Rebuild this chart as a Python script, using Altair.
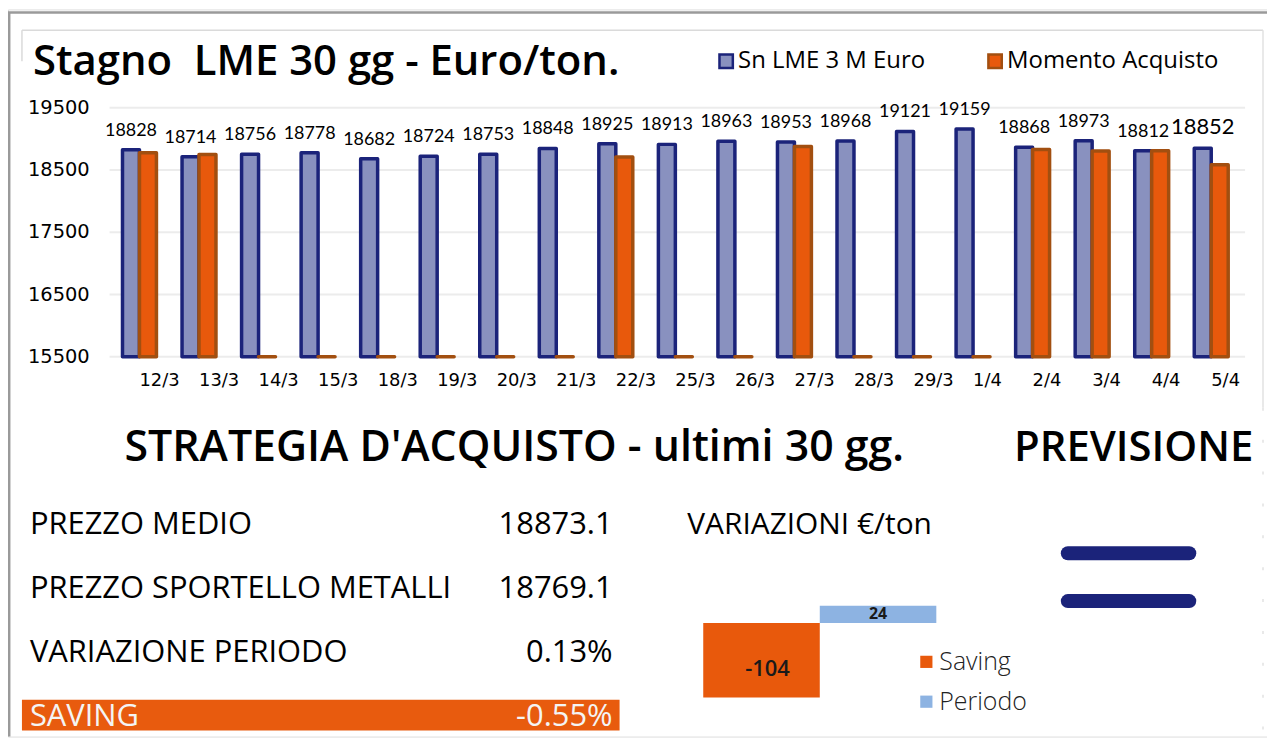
import altair as alt
import pandas as pd

# ---------------- data ----------------
dates = ["12/3", "13/3", "14/3", "15/3", "18/3", "19/3", "20/3", "21/3", "22/3", "25/3",
         "26/3", "27/3", "28/3", "29/3", "1/4", "2/4", "3/4", "4/4", "5/4"]
sn_lme = [18828, 18714, 18756, 18778, 18682, 18724, 18753, 18848, 18925, 18913,
          18963, 18953, 18968, 19121, 19159, 18868, 18973, 18812, 18852]
# 0 = no purchase that day (drawn as a stub on the axis, like the original)
acquisto = [18780, 18750, 0, 0, 0, 0, 0, 0, 18710, 0,
            0, 18880, 0, 0, 0, 18830, 18805, 18812, 18585]
series_names = ["Sn LME 3 M Euro", "Momento Acquisto"]
y_ticks = [15500, 16500, 17500, 18500, 19500]

strategy_labels = ["PREZZO MEDIO", "PREZZO SPORTELLO METALLI", "VARIAZIONE PERIODO", "SAVING"]
strategy_values = ["18873.1", "18769.1", "0.13%", "-0.55%"]

var_cats = ["Saving", "Periodo"]
var_values = [-104, 24]

# ---------------- styles ----------------
FONT = "Open Sans"
NUMFONT = "DejaVu Sans"
LABFONT = "Lato"
NAVY = "#1B237A"
BLUE_FILL = "#8991BF"
ORANGE = "#E8590C"
ORANGE_STROKE = "#A24F10"
PERIODO = "#8DB3E2"
GRID = "#ECECEC"

bars_df = pd.DataFrame({
    "date": dates * 2,
    "series": [series_names[0]] * len(dates) + [series_names[1]] * len(dates),
    "value": sn_lme + acquisto,
})
ticks_df = pd.DataFrame({"tick": y_ticks})
dates_df = pd.DataFrame({"date": dates})
strategy_df = pd.DataFrame({"label": strategy_labels, "value": strategy_values})
var_df = pd.DataFrame({"cat": var_cats, "value": var_values})
legend_df = pd.DataFrame({"series": series_names})
EMPTY = alt.Data(values=[{}])


def static_text(txt, x, y, size, weight="normal", align="left", color="black",
                baseline="middle", font=FONT):
    return alt.Chart(EMPTY).mark_text(
        text=txt, fontSize=size, fontWeight=weight, align=align, baseline=baseline,
        color=color, font=font
    ).encode(x=alt.value(x), y=alt.value(y))


def rule(x, x2, y, y2, color, width, dash=None, cap="butt"):
    kw = dict(color=color, strokeWidth=width, strokeCap=cap)
    if dash:
        kw["strokeDash"] = dash
    return alt.Chart(EMPTY).mark_rule(**kw).encode(
        x=alt.value(x), x2=alt.value(x2), y=alt.value(y), y2=alt.value(y2))


# ---------------- bar chart group ----------------
X_SCALE = alt.Scale(domain=dates, range=[102.1, 1237.9], paddingInner=0.43, paddingOuter=0.215)
Y_SCALE = alt.Scale(domain=[15500, 19500], range=[348.7, 98.8], clamp=True, zero=False, nice=False)
XO_SCALE = alt.Scale(domain=series_names, paddingInner=0, paddingOuter=0)

grid = alt.Chart(ticks_df).mark_rule(color=GRID, strokeWidth=2).encode(
    x=alt.value(102), x2=alt.value(1242),
    y=alt.Y("tick:Q", scale=Y_SCALE, axis=None))
ylabels = alt.Chart(ticks_df).mark_text(
    align="right", baseline="middle", fontSize=19.5, font=NUMFONT, color="black").encode(
    x=alt.value(82), y=alt.Y("tick:Q", scale=Y_SCALE, axis=None),
    text=alt.Text("tick:Q", format="d"))

base = alt.Chart(bars_df).encode(
    x=alt.X("date:N", scale=X_SCALE, axis=None, sort=dates),
    xOffset=alt.XOffset("series:N", scale=XO_SCALE, sort=series_names),
)
blue = base.transform_filter(alt.datum.series == series_names[0]).mark_bar(
    fill=BLUE_FILL, stroke=NAVY, strokeWidth=3.5, strokeJoin="round").encode(
    y=alt.Y("value:Q", scale=Y_SCALE, axis=None), y2=alt.datum(15500))
orange = base.transform_filter(alt.datum.series == series_names[1]).mark_bar(
    fill=ORANGE, stroke=ORANGE_STROKE, strokeWidth=3.5, strokeJoin="round").encode(
    y=alt.Y("value:Q", scale=Y_SCALE, axis=None), y2=alt.datum(15500))
vlabels = base.transform_filter(alt.datum.series == series_names[0]).mark_text(
    font=LABFONT, baseline="alphabetic", dy=-14, color="black").encode(
    y=alt.Y("value:Q", scale=Y_SCALE, axis=None), text=alt.Text("value:Q", format="d"),
    size=alt.condition(alt.datum.date == dates[-1], alt.value(22), alt.value(18)))
xlabels = alt.Chart(dates_df).mark_text(
    fontSize=18, font=NUMFONT, align="left", baseline="middle", color="black").encode(
    x=alt.X("date:N", scale=X_SCALE, axis=None, sort=dates),
    y=alt.value(373.5), text="date:N")

bar_group = alt.layer(grid, ylabels, blue, orange, vlabels, xlabels)

# ---------------- top legend ----------------
LEG_X = alt.X("series:N", scale=alt.Scale(domain=series_names, range=[721, 991], padding=0), axis=None)
leg_sq = alt.Chart(legend_df).mark_square(size=180, strokeWidth=2.5, opacity=1).encode(
    x=LEG_X, y=alt.value(52),
    fill=alt.Fill("series:N", scale=alt.Scale(domain=series_names, range=[BLUE_FILL, ORANGE]), legend=None),
    stroke=alt.Stroke("series:N", scale=alt.Scale(domain=series_names, range=[NAVY, ORANGE_STROKE]), legend=None))
leg_txt = alt.Chart(legend_df).mark_text(
    align="left", baseline="middle", dx=12, fontSize=24, fontWeight=500, font=FONT, color="black").encode(
    x=LEG_X, y=alt.value(52), text="series:N")

# ---------------- strategy table ----------------
ROW_Y = alt.Y("label:N", scale=alt.Scale(domain=strategy_labels, range=[518, 710], padding=0), axis=None)
saving_bg = alt.Chart(EMPTY).mark_rect(color="#E85B0E").encode(
    x=alt.value(14), x2=alt.value(614), y=alt.value(693), y2=alt.value(724))
txt_color = alt.condition(alt.datum.label == "SAVING", alt.value("#F4F4F4"), alt.value("black"))
tbl_labels = alt.Chart(strategy_df).mark_text(
    align="left", baseline="middle", fontSize=31, fontWeight=500, font=FONT).encode(
    x=alt.value(22), y=ROW_Y, text="label:N", color=txt_color)
tbl_values = alt.Chart(strategy_df).mark_text(
    align="right", baseline="middle", fontSize=31, fontWeight=500, font=FONT).encode(
    x=alt.value(607), y=ROW_Y, text="value:N", color=txt_color)

# ---------------- variazioni (saving / periodo) ----------------
VX = alt.X("cat:N", scale=alt.Scale(type="band", domain=var_cats, range=[698, 932], padding=0), axis=None)
VY = alt.Scale(domain=[-104, 24], range=[690.7, 598.7], zero=False, nice=False)
VFILL = alt.Fill("cat:N", scale=alt.Scale(domain=var_cats, range=[ORANGE, PERIODO]), legend=None)
var_bars = alt.Chart(var_df).mark_bar(opacity=1).encode(
    x=VX, y=alt.Y("value:Q", scale=VY, axis=None), y2=alt.datum(0), fill=VFILL)
var_lab_s = alt.Chart(var_df).transform_filter(alt.datum.cat == "Saving").transform_calculate(
    mid="datum.value / 2", txt="'' + datum.value").mark_text(
    fontSize=22, fontWeight=600, font=FONT, dx=6, dy=9, baseline="middle", color="#1a1a1a").encode(
    x=VX, y=alt.Y("mid:Q", scale=VY, axis=None), text="txt:N")
var_lab_p = alt.Chart(var_df).transform_filter(alt.datum.cat == "Periodo").transform_calculate(
    mid="datum.value / 2", txt="'' + datum.value").mark_text(
    fontSize=16, fontWeight="bold", font=FONT, baseline="middle", color="#1a1a1a").encode(
    x=VX, y=alt.Y("mid:Q", scale=VY, axis=None), text="txt:N")
VLEG_Y = alt.Y("cat:N", scale=alt.Scale(domain=var_cats, range=[655, 695], padding=0), axis=None)
var_leg_sq = alt.Chart(var_df).mark_square(size=150, opacity=1).encode(
    x=alt.value(922), y=VLEG_Y, fill=VFILL)
var_leg_txt = alt.Chart(var_df).mark_text(
    align="left", baseline="middle", fontSize=25, fontWeight=300, font=FONT, color="#222").encode(
    x=alt.value(935), y=VLEG_Y, text="cat:N")

# ---------------- frame & static texts ----------------
frame = [
    rule(0, 1264, 3, 3, "#9A9A9A", 2.5),
    rule(1.2, 1.2, 3, 730, "#9A9A9A", 2.5),
    rule(14, 1260, 21, 21, "#DADADA", 1.5),
    rule(14, 14, 21, 52, "#DADADA", 1.5),
    rule(1260, 1260, 21, 400, "#E2E2E2", 1.5),
    rule(1260, 1260, 400, 730, "#E2E2E2", 1.5, dash=[3, 29]),
]
texts = [
    static_text("Stagno\u00a0 LME 30 gg - Euro/ton.", 25, 66, 42, weight=600, baseline="alphabetic"),
    static_text("STRATEGIA D'ACQUISTO - ultimi 30 gg.", 117, 440, 43, weight=600),
    static_text("PREVISIONE", 1010, 440, 42, weight=600),
    static_text("VARIAZIONI €/ton", 682, 518, 30, weight=500),
]
equal_sign = [
    rule(1064, 1186, 546, 546, NAVY, 14, cap="round"),
    rule(1064, 1186, 594, 594, NAVY, 14, cap="round"),
]

chart = alt.layer(
    *frame, *texts, leg_sq, leg_txt, bar_group,
    saving_bg, tbl_labels, tbl_values,
    var_bars, var_lab_s, var_lab_p, var_leg_sq, var_leg_txt,
    *equal_sign,
).resolve_scale(
    x="independent", y="independent", fill="independent", stroke="independent"
).properties(
    width=1264, height=730,
    autosize=alt.AutoSizeParams(type="none"),
    padding=0,
    background="white",
).configure_view(stroke=None).configure(font=FONT)

chart.save("out.html", embed_options={"renderer": "svg", "actions": False})
